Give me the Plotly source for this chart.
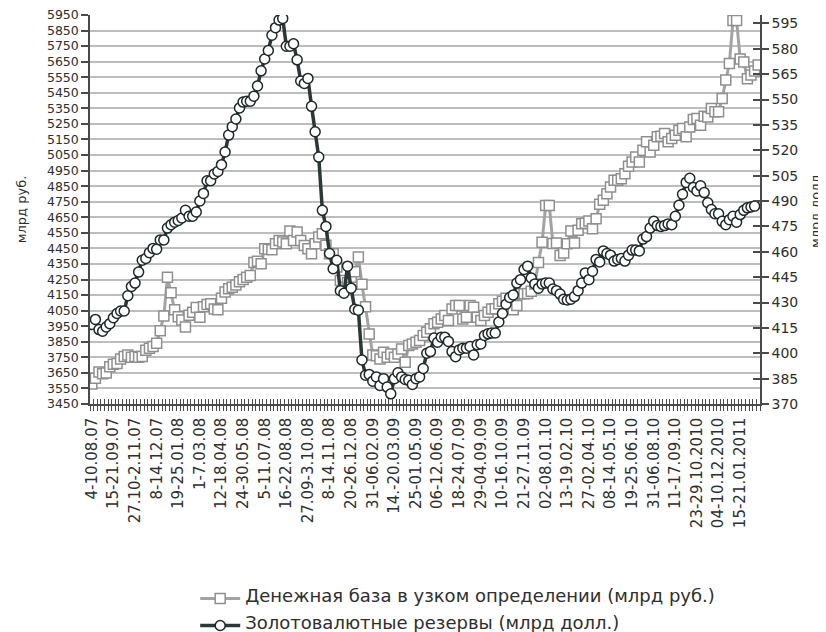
import plotly.graph_objects as go

# weekly observations, Aug 2007 - Feb 2011
money_base = [
    3578, 3615, 3655, 3645, 3650, 3690, 3705, 3710, 3740, 3755,
    3765, 3750, 3755, 3750, 3755, 3795, 3808, 3820, 3840, 3920,
    4015, 4265, 4165, 4055, 4010, 3990, 3945, 4020, 4040, 4070,
    4008, 4075, 4090, 4094, 4060, 4055, 4130, 4170, 4190, 4200,
    4215, 4235, 4250, 4265, 4276, 4360, 4368, 4352, 4448, 4445,
    4441, 4480, 4500, 4491, 4480, 4562, 4501, 4555, 4501, 4469,
    4448, 4416, 4480, 4523, 4544, 4470, 4416, 4416, 4330, 4244,
    4201, 4230, 4265, 4300, 4395, 4220, 4075, 3900, 3765, 3760,
    3740, 3783, 3750, 3772, 3750, 3772, 3804, 3718, 3826, 3836,
    3847, 3858, 3890, 3911, 3933, 3965, 3976, 3997, 4019, 3986,
    4061, 4083, 4083, 3997, 4008, 4083, 4072, 4008, 3986, 4019,
    4040, 4061, 4062, 4095, 4110, 4130, 4100, 4055, 4083, 4158,
    4158, 4160, 4175, 4222, 4360, 4490, 4725, 4725, 4482, 4484,
    4405, 4420, 4480, 4562, 4484, 4566, 4609, 4612, 4626, 4577,
    4641, 4733, 4759, 4802, 4845, 4888, 4888, 4898, 4930, 4978,
    5006, 5038, 5006, 5081, 5135, 5070, 5113, 5167, 5171, 5188,
    5135, 5156, 5177, 5210, 5220, 5167, 5231, 5278, 5285, 5242,
    5300, 5295, 5349, 5328, 5328, 5414, 5532, 5639, 5915, 5915,
    5668, 5648, 5540, 5565, 5590, 5628,
]

reserves = [
    417, 420, 414, 413, 415.5, 417.5, 421, 423.5, 425, 425,
    434, 439.5, 441.5, 448, 455, 456, 459.5, 462, 461.5, 467,
    467, 474, 476, 477.5, 478.5, 480, 484.5, 481, 481, 483.5,
    490, 494.5, 502, 502, 506, 507.5, 511.5, 519, 529, 534,
    538.5, 545, 548.5, 549, 549, 552, 558, 567, 574, 579,
    588, 592.5, 597, 598, 581.5, 581.5, 583, 573.5, 561, 559.5,
    562.5, 546, 531, 516, 484.5, 475, 459, 450, 455, 437,
    435.5, 451.5, 438.5, 426, 425.5, 396, 387, 387.5, 383.5, 386,
    381, 385, 380, 376, 385, 388.5, 386, 384.5, 384, 381.5,
    385, 386, 391, 400, 401, 409, 406.5, 409.5, 409.5, 407,
    401, 398, 402, 403, 403, 404, 399, 405, 405.5, 410.5,
    411.5, 412, 412, 418.5, 423.5, 429, 433, 434.5, 441.5, 443.5,
    449.5, 451.5, 444.5, 441, 438.5, 441, 441.5, 441.5, 438, 437,
    435, 432, 431.5, 432, 433.5, 437, 441.5, 447.5, 443.5, 448.5,
    455.5, 454, 460.5, 459, 458, 454.5, 455.5, 456, 454.5, 458,
    461, 461, 460.5, 467.5, 469, 474, 478, 475.5, 475, 475.5,
    476.5, 476, 481, 487.5, 494, 501, 503.5, 498, 496, 499,
    495, 489, 485, 482.5, 482.5, 478, 476, 479, 481, 477.5,
    482, 484.5, 486, 486.5, 487, None,
]

week_labels = [
    "4-10.08.07", "15-21.09.07", "27.10-2.11.07", "8-14.12.07", "19-25.01.08",
    "1-7.03.08", "12-18.04.08", "24-30.05.08", "5-11.07.08", "16-22.08.08",
    "27.09-3.10.08", "8-14.11.08", "20-26.12.08", "31-06.02.09", "14.-20.03.09",
    "25-01.05.09", "06-12.06.09", "18-24.07.09", "29-04.09.09", "10-16.10.09",
    "21-27.11.09", "02-08.01.10", "13-19.02.10", "27-02.04.10", "08-14.05.10",
    "19-25.06.10", "31-06.08.10", "11-17.09.10", "23-29.10.2010", "04-10.12.2010",
    "15-21.01.2011",
]
label_step = 6

n = len(money_base)
xs = list(range(n))
label_pos = [k * label_step for k in range(len(week_labels))]
bounds = [k - 0.5 for k in range(n + 1)]

FONT = "DejaVu Sans"
AXIS = "#4a4a4a"
TXT = "#2e2e2e"


def legend_name(text):
    # legend rows are sized from legend.font; the visible text is larger
    return '<span style="font-size:18px">' + text + "</span>"


fig = go.Figure()
fig.add_trace(go.Scatter(
    x=xs, y=money_base,
    name=legend_name("Денежная база в узком определении (млрд руб.)"),
    mode="lines+markers", legendgroup="a",
    line=dict(color="#a3a3a3", width=3),
    marker=dict(symbol="square", size=10, color="white",
                line=dict(color="#8f8f8f", width=1.5)),
))
fig.add_trace(go.Scatter(
    x=xs, y=reserves,
    name=legend_name("Золотовалютные резервы (млрд долл.)"),
    mode="lines+markers", yaxis="y2", legendgroup="b",
    line=dict(color="#2c3838", width=3.5),
    marker=dict(symbol="circle", size=10, color="white",
                line=dict(color="#1e2828", width=1.5)),
))
# empty traces so the overlay axes (inner halves of the cross ticks) get drawn
fig.add_trace(go.Scatter(x=[None], y=[None], xaxis="x2", yaxis="y",
                         showlegend=False, hoverinfo="skip"))
fig.add_trace(go.Scatter(x=[None], y=[None], xaxis="x", yaxis="y3",
                         showlegend=False, hoverinfo="skip"))

fig.update_layout(
    width=826, height=632,
    margin=dict(l=82, r=74, t=7, b=236, autoexpand=False),
    paper_bgcolor="white", plot_bgcolor="white",
    font=dict(family=FONT, color=TXT, size=14),
    showlegend=True,
    legend=dict(x=0.157, xref="paper", y=0, yref="container",
                xanchor="left", yanchor="bottom", itemwidth=40,
                font=dict(size=10, color=TXT), tracegroupgap=8,
                bgcolor="rgba(0,0,0,0)"),
    xaxis=dict(
        range=[-0.5, n - 0.5], tickmode="array", tickvals=label_pos,
        ticktext=week_labels, tickangle=-90, ticks="",
        tickfont=dict(size=15), ticklabelstandoff=6,
        ticklabeloverflow="allow",
        showgrid=False, zeroline=False,
        showline=True, linecolor=AXIS, linewidth=1.5, automargin=False,
        minor=dict(tickmode="array", tickvals=bounds, ticks="outside",
                   ticklen=5, tickwidth=1, tickcolor=AXIS),
    ),
    xaxis2=dict(
        overlaying="x", anchor="y", side="bottom", automargin=False,
        range=[-0.5, n - 0.5], tickmode="array", tickvals=bounds,
        ticks="inside", ticklen=5, tickwidth=1, tickcolor=AXIS,
        showticklabels=False, showgrid=False, zeroline=False, showline=False,
    ),
    yaxis=dict(
        range=[3450, 5950], tick0=3450, dtick=100,
        ticks="outside", ticklen=7, tickwidth=1.5, tickcolor=AXIS,
        showline=True, linecolor=AXIS, linewidth=1.5,
        showgrid=True, gridcolor="#bdbdbd", gridwidth=1.5, zeroline=False,
        tickfont=dict(size=12.5), ticklabeloverflow="allow", automargin=False,
        title=dict(text="млрд руб.", font=dict(size=13), standoff=17),
    ),
    yaxis2=dict(
        overlaying="y", side="right", anchor="x",
        range=[370, 600], tick0=370, dtick=15,
        ticks="outside", ticklen=7, tickwidth=1.5, tickcolor=AXIS,
        showline=True, linecolor=AXIS, linewidth=1.5,
        showgrid=False, zeroline=False, tickfont=dict(size=14),
        ticklabeloverflow="allow", automargin=False,
        title=dict(text="млрд долл.", font=dict(size=13), standoff=14),
    ),
    yaxis3=dict(
        overlaying="y", side="right", anchor="x", automargin=False,
        range=[370, 600], tick0=370, dtick=15,
        ticks="inside", ticklen=7, tickwidth=1.5, tickcolor=AXIS,
        showticklabels=False, showline=False, showgrid=False, zeroline=False,
    ),
)

fig.write_html("out.html")
